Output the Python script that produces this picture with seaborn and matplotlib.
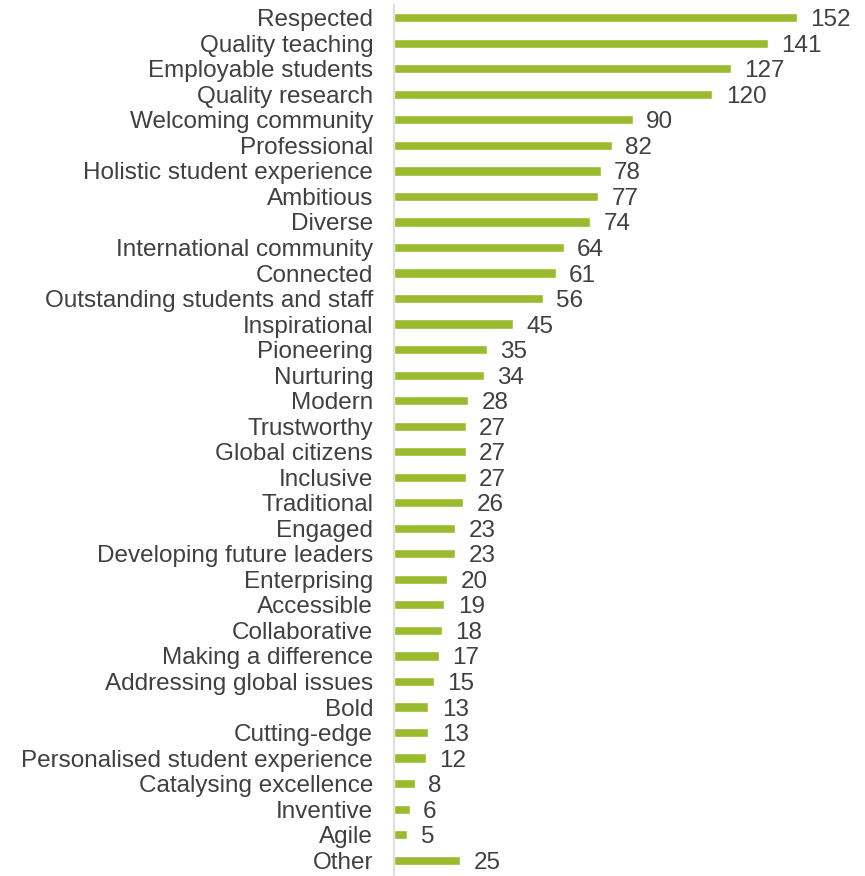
#!/usr/bin/env python3
"""
Horizontal bar chart of words chosen to describe the university
"""

import matplotlib
matplotlib.use('Agg')
import matplotlib.pyplot as plt
import seaborn as sns
import pandas as pd

categories = [
    'Respected', 'Quality teaching', 'Employable students', 'Quality research',
    'Welcoming community', 'Professional', 'Holistic student experience',
    'Ambitious', 'Diverse', 'International community', 'Connected',
    'Outstanding students and staff', 'Inspirational', 'Pioneering',
    'Nurturing', 'Modern', 'Trustworthy', 'Global citizens', 'Inclusive',
    'Traditional', 'Engaged', 'Developing future leaders', 'Enterprising',
    'Accessible', 'Collaborative', 'Making a difference',
    'Addressing global issues', 'Bold', 'Cutting-edge',
    'Personalised student experience', 'Catalysing excellence', 'Inventive',
    'Agile', 'Other',
]
counts = [152, 141, 127, 120, 90, 82, 78, 77, 74, 64, 61, 56, 45, 35, 34, 28,
          27, 27, 27, 26, 23, 23, 20, 19, 18, 17, 15, 13, 13, 12, 8, 6, 5, 25]

BAR_COLOR = '#9bbb2f'
TEXT_COLOR = '#404040'


def main():
    sns.set_theme(style='white')
    plt.rcParams['font.family'] = ['Liberation Sans', 'DejaVu Sans']

    df = pd.DataFrame({'word': categories, 'count': counts})

    fig = plt.figure(figsize=(8.65, 8.76), dpi=100)
    ax = fig.add_axes([394 / 865, 0, 1 - 394 / 865, 871 / 876])

    sns.barplot(data=df, x='count', y='word', color=BAR_COLOR, width=0.36,
                saturation=1, ax=ax, orient='h')

    ax.set_xlim(0, 177.5)
    ax.set_ylim(33.62, -0.5)

    for i, v in enumerate(counts):
        ax.text(v + 5.0, i, str(v), va='center_baseline', ha='left',
                fontsize=17.5, color=TEXT_COLOR)

    ax.set_xlabel('')
    ax.set_ylabel('')
    ax.set_xticks([])
    ax.tick_params(axis='y', length=0, pad=15, labelsize=17.5,
                   labelcolor=TEXT_COLOR)
    for s in ['top', 'right', 'bottom']:
        ax.spines[s].set_visible(False)
    ax.spines['left'].set_color('#d9d9d9')
    ax.spines['left'].set_linewidth(1.2)

    fig.savefig('out.png', dpi=100)
    plt.close(fig)


if __name__ == "__main__":
    main()
